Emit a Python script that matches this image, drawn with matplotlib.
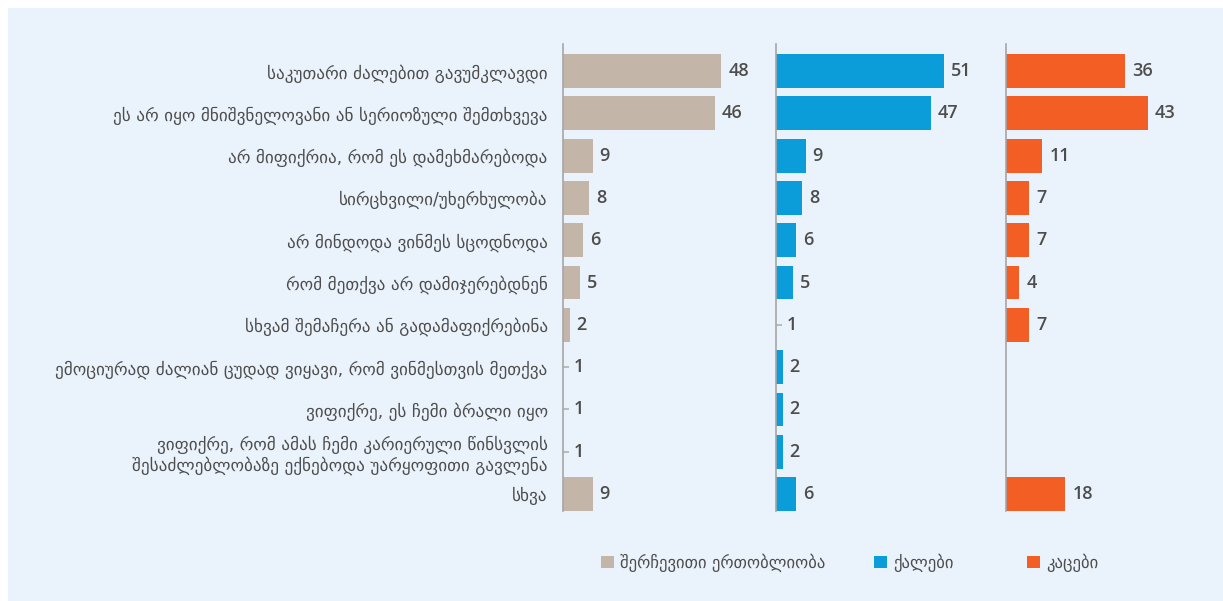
import numpy as np
import matplotlib.pyplot as plt
from matplotlib.patches import Rectangle

# categories (top to bottom)
categories = [
    "საკუთარი ძალებით გავუმკლავდი",
    "ეს არ იყო მნიშვნელოვანი ან სერიოზული შემთხვევა",
    "არ მიფიქრია, რომ ეს დამეხმარებოდა",
    "სირცხვილი/უხერხულობა",
    "არ მინდოდა ვინმეს სცოდნოდა",
    "რომ მეთქვა არ დამიჯერებდნენ",
    "სხვამ შემაჩერა ან გადამაფიქრებინა",
    "ემოციურად ძალიან ცუდად ვიყავი, რომ ვინმესთვის მეთქვა",
    "ვიფიქრე, ეს ჩემი ბრალი იყო",
    "ვიფიქრე, რომ ამას ჩემი კარიერული წინსვლის\nშესაძლებლობაზე ექნებოდა უარყოფითი გავლენა",
    "სხვა",
]

total = [48, 46, 9, 8, 6, 5, 2, 1, 1, 1, 9]
women = [51, 47, 9, 8, 6, 5, 1, 2, 2, 2, 6]
men = [36, 43, 11, 7, 7, 4, 7, None, None, None, 18]

series_names = ["შერჩევითი ერთობლიობა", "ქალები", "კაცები"]
colors = ["#c3b5a7", "#0b9dd9", "#f25e24"]

W, H = 1223, 601
BG = "#eaf2fb"
TXT = "#4d4d4d"
PX_PER_UNIT = 3.3
AX_W = 200

fig = plt.figure(figsize=(W / 100, H / 100), dpi=100)
fig.patch.set_facecolor("white")
fig.patches.append(Rectangle((8 / W, 0), 1, (H - 8) / H, transform=fig.transFigure,
                             facecolor=BG, edgecolor="none", zorder=-10))

lefts = [563, 776, 1006]
legend_x = [586, 859, 1012]
y = np.arange(len(categories))
for k, (vals, col, left) in enumerate(zip([total, women, men], colors, lefts)):
    ax = fig.add_axes([left / W, 90 / H, AX_W / W, 467 / H])
    ax.set_facecolor("none")
    ax.set_xlim(0, AX_W / PX_PER_UNIT)
    ax.set_ylim(10.4, -0.64)
    for s in ["top", "right", "bottom"]:
        ax.spines[s].set_visible(False)
    ax.spines["left"].set_color("#a6a6a6")
    ax.spines["left"].set_linewidth(1.2)
    ax.set_xticks([])
    for i, v in enumerate(vals):
        if v is None:
            continue
        if v <= 1:
            ax.hlines(i, 0, v * 1.8, color="#b0b0b0", lw=1.2)
        else:
            ax.barh(i, v, height=0.8, color=col)
        ax.annotate(str(v), (v, i), xytext=(5, 0), textcoords="offset points",
                    va="center", ha="left", fontsize=13, color=TXT,
                    family="Open Sans", weight="semibold")
    if k == 0:
        ax.set_yticks(y)
        ax.set_yticklabels(categories, fontsize=12.3, color=TXT, family="DejaVu Sans",
                           linespacing=1.15)
        ax.tick_params(axis="y", length=0, pad=11)
    else:
        ax.set_yticks([])

    # one legend entry per series, placed like the original
    fig.legend([Rectangle((0, 0), 1, 1, facecolor=col)], [series_names[k]],
               loc="center left", bbox_to_anchor=(legend_x[k] / W, 1 - 563 / H),
               frameon=False, fontsize=12, labelcolor=TXT,
               handlelength=0.75, handleheight=0.75, handletextpad=0.4)

fig.savefig("out.png", dpi=100, facecolor=fig.get_facecolor())
